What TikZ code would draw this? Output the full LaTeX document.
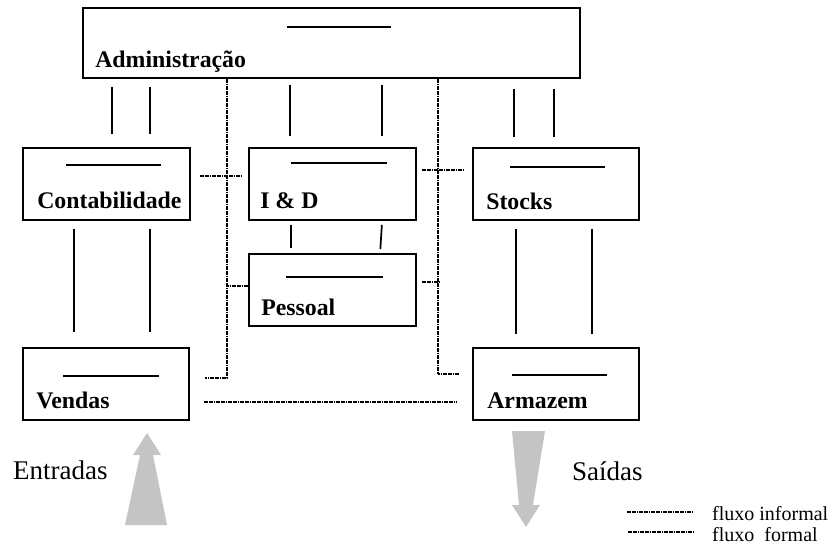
\documentclass[tikz,border=0pt]{standalone}
\usepackage{fontspec}
\setmainfont{Liberation Serif}
\usetikzlibrary{calc}
\definecolor{arrowgray}{RGB}{196,196,196}
\tikzset{
  unit/.style={draw, line width=1.8pt, inner sep=0pt, minimum width=167pt, minimum height=72pt},
  unitname/.style={anchor=base west, inner sep=0pt, font=\fontsize{23.8}{28}\selectfont\bfseries},
  titlebar/.style={line width=1.7pt},
  informal/.style={line width=1.7pt},
  formal/.style={line width=1.6pt, dash pattern=on 1.8pt off 0.6pt},
  bigword/.style={anchor=base west, inner sep=0pt, font=\fontsize{27}{30}\selectfont},
  legendword/.style={anchor=base west, inner sep=0pt, font=\fontsize{20}{22}\selectfont},
  flowarrow/.style={fill=arrowgray, draw=none}
}
\begin{document}
\begin{tikzpicture}[x=1pt, y=-1pt]
\useasboundingbox (0,0) rectangle (835,548);

% units of the organisation
\node[unit, minimum width=497pt, minimum height=70pt] (admin) at (331.5,43) {};
\node[unit] (contab)  at (106.5,184) {};
\node[unit] (idd)     at (332.5,184) {};
\node[unit] (pessoal) at (332.5,290) {};
\node[unit, minimum width=166pt] (stocks)  at (556,184) {};
\node[unit, minimum width=166pt] (vendas)  at (106,384) {};
\node[unit, minimum width=166pt] (armazem) at (556,384) {};

% title bars
\draw[titlebar] ($(admin.north west)+(205,20)$)   -- ++(104,0);
\draw[titlebar] ($(contab.north west)+(44,18)$)   -- ++(95,0);
\draw[titlebar] ($(idd.north west)+(43,16)$)      -- ++(96,0);
\draw[titlebar] ($(pessoal.north west)+(38,24)$)  -- ++(97,0);
\draw[titlebar] ($(stocks.north west)+(38,20)$)   -- ++(95,0);
\draw[titlebar] ($(vendas.north west)+(41,29)$)   -- ++(96,0);
\draw[titlebar] ($(armazem.north west)+(40,28)$)  -- ++(95,0);

% names
\node[unitname] (adminname)   at ($(admin.south west)+(13,-11)$)   {Administração};
\node[unitname] (contabname)  at ($(contab.south west)+(15,-12)$)  {Contabilidade};
\node[unitname] (iddname)     at ($(idd.south west)+(12,-12)$)     {I \& D};
\node[unitname] (pessoalname) at ($(pessoal.south west)+(13,-11)$) {Pessoal};
\node[unitname] (stocksname)  at ($(stocks.south west)+(14,-11)$)  {Stocks};
\node[unitname] (vendasname)  at ($(vendas.south west)+(14,-12)$)  {Vendas};
\node[unitname] (armazemname) at ($(armazem.south west)+(15,-12)$) {Armazem};

% solid links
\draw[informal, shorten <=8pt, shorten >=13pt] ([xshift=30pt]admin.south west) -- ([xshift=90pt]contab.north west);
\draw[informal, shorten <=8pt, shorten >=13pt] ([xshift=68pt]admin.south west) -- ([xshift=128pt]contab.north west);
\draw[informal, shorten <=6pt, shorten >=11pt] ([xshift=208pt]admin.south west) -- ([xshift=42pt]idd.north west);
\draw[informal, shorten <=6pt, shorten >=11pt] ([xshift=300pt]admin.south west) -- ([xshift=134pt]idd.north west);
\draw[informal, shorten <=10pt, shorten >=10pt] ([xshift=432pt]admin.south west) -- ([xshift=42pt]stocks.north west);
\draw[informal, shorten <=10pt, shorten >=10pt] ([xshift=472pt]admin.south west) -- ([xshift=82pt]stocks.north west);
\draw[informal, shorten <=8pt, shorten >=15pt] ([xshift=52pt]contab.south west) -- ([xshift=52pt]vendas.north west);
\draw[informal, shorten <=8pt, shorten >=15pt] ([xshift=128pt]contab.south west) -- ([xshift=128pt]vendas.north west);
\draw[informal, shorten <=4pt, shorten >=5pt] ([xshift=43pt]idd.south west) -- ([xshift=43pt]pessoal.north west);
\draw[informal, shorten <=4pt, shorten >=4pt] ([xshift=134pt]idd.south west) -- ([xshift=132pt]pessoal.north west);
\draw[informal, shorten <=8pt, shorten >=13pt] ([xshift=44pt]stocks.south west) -- ([xshift=44pt]armazem.north west);
\draw[informal, shorten <=8pt, shorten >=13pt] ([xshift=120pt]stocks.south west) -- ([xshift=120pt]armazem.north west);

% dotted links
\draw[formal] ([xshift=145pt]admin.south west) |- ($(vendas.east)+(15,-6)$);
\draw[formal] ([xshift=356pt]admin.south west) |- ($(armazem.west)+(-13,-10)$);
\draw[formal] ($(contab.east)+(9,-8)$) -- ($(idd.west)+(-7,-8)$);
\draw[formal] ($(idd.east)+(5,-14)$) -- ($(stocks.west)+(-9,-14)$);
\draw[formal] ($(pessoal.west)+(-21,-4)$) -- ($(pessoal.west)+(0,-4)$);
\draw[formal] ($(pessoal.east)+(5,-8)$) -- ($(pessoal.east)+(23,-8)$);
\draw[formal] ($(vendas.east)+(14,18)$) -- ($(armazem.west)+(-15,18)$);

% flows in and out
\fill[flowarrow] (147,433) -- (161,455) -- (153,455) -- (167,525) -- (125,525) -- (140,455) -- (133,455) -- cycle;
\fill[flowarrow] (512,431) -- (545,431) -- (533,505) -- (540,505) -- (526,527) -- (512,505) -- (519,505) -- cycle;
\node[bigword] (entradas) at (13,479) {Entradas};
\node[bigword] (saidas) at (572,480) {Saídas};

% legend
\coordinate (lega) at (627,512);
\coordinate (legb) at (693,512);
\coordinate (legc) at (628,532);
\coordinate (legd) at (693,532);
\draw[formal] (lega) -- (legb);
\draw[formal] (legc) -- (legd);
\node[legendword] (leginf) at (712,520) {fluxo informal};
\node[legendword] (legfor) at (712,541) {fluxo\ \ formal};
\end{tikzpicture}
\end{document}
